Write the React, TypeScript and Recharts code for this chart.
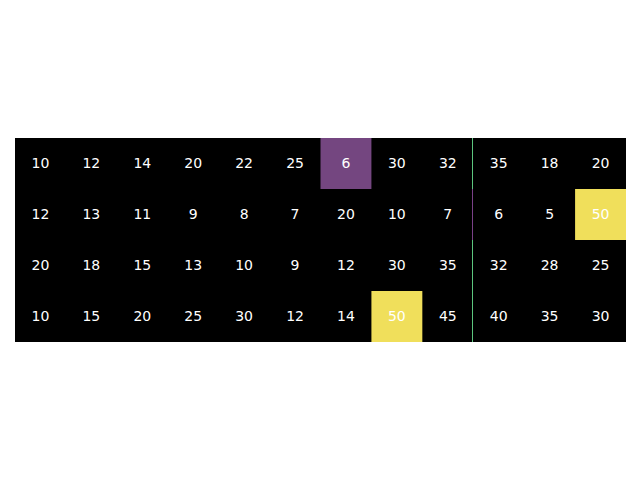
import { ScatterChart, Scatter, XAxis, YAxis, ReferenceArea } from 'recharts'

// cell values, one list per row (top to bottom)
const row0 = [10, 12, 14, 20, 22, 25, 6, 30, 32, 35, 18, 20]
const row1 = [12, 13, 11, 9, 8, 7, 20, 10, 7, 6, 5, 50]
const row2 = [20, 18, 15, 13, 10, 9, 12, 30, 35, 32, 28, 25]
const row3 = [10, 15, 20, 25, 30, 12, 14, 50, 45, 40, 35, 30]
const rows = [row0, row1, row2, row3]

// cells that get a colour instead of the black background
const highlightRows = [0, 1, 3]
const highlightCols = [6, 11, 7]
const highlightColors = ['#744680', '#f0df5b', '#f0df5b']

// thin strip just left of column 9, colour per row
const stripColors = ['#5cc57e', '#7a4188', '#5cc57e', '#5cc57e']

const cells = rows.flatMap((vals, r) =>
  vals.map((v, c) => ({ x: c + 0.5, y: r + 0.5, v }))
)

const CellText = (props: any) => {
  const { cx, cy, payload } = props
  return (
    <text
      x={cx}
      y={cy}
      dy={-1}
      fill="#ffffff"
      fontSize={14}
      fontFamily="DejaVu Sans"
      textAnchor="middle"
      dominantBaseline="central"
    >
      {payload.v}
    </text>
  )
}

export default function App() {
  return (
    <div style={{ position: 'absolute', left: 0, top: 0, background: '#fff' }}>
      <ScatterChart
        width={640}
        height={480}
        margin={{ top: 138, right: 14, bottom: 138, left: 15 }}
      >
        <XAxis type="number" dataKey="x" domain={[0, 12]} hide />
        <YAxis type="number" dataKey="y" domain={[0, 4]} reversed hide />
        <ReferenceArea x1={0} x2={12} y1={0} y2={4} fill="#000000" fillOpacity={1} />
        {highlightRows.map((r, i) => (
          <ReferenceArea
            key={'h' + i}
            x1={highlightCols[i]}
            x2={highlightCols[i] + 1}
            y1={r}
            y2={r + 1}
            fill={highlightColors[i]}
            fillOpacity={1}
          />
        ))}
        {stripColors.map((col, r) => (
          <ReferenceArea
            key={'s' + r}
            x1={8.975}
            x2={8.995}
            y1={r}
            y2={r + 1}
            fill={col}
            fillOpacity={1}
            shapeRendering="crispEdges"
          />
        ))}
        <Scatter data={cells} shape={CellText} isAnimationActive={false} />
      </ScatterChart>
    </div>
  )
}
